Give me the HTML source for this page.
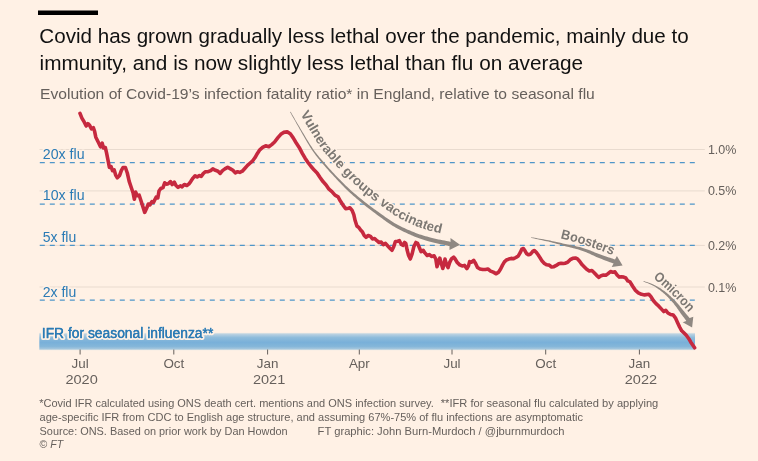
<!DOCTYPE html>
<html><head><meta charset="utf-8">
<style>
html,body{margin:0;padding:0;background:#fff1e5;}
body{width:758px;height:461px;overflow:hidden;font-family:"Liberation Sans",sans-serif;}
svg{display:block;filter:opacity(1);will-change:transform;font-family:"Liberation Sans",sans-serif;}
.t{fill:#111;font-size:19.3px;}
.s{fill:#66605c;font-size:14.4px;}
.ax{fill:#66605c;font-size:13.4px;}
.f{fill:#66605c;font-size:11.5px;}
.b{fill:#2b7bb5;font-size:14px;}
.g{stroke:#e9dbcf;stroke-width:1;}
.d{stroke:#4f96c9;stroke-width:1.25;stroke-dasharray:5 5;}
.lab{fill:#7c7873;font-weight:bold;font-size:13.5px;stroke:#fff1e5;stroke-width:2.5px;stroke-linejoin:round;paint-order:stroke;}
</style></head><body>
<svg width="758" height="461" viewBox="0 0 758 461">
<defs>
<linearGradient id="fb" x1="0" y1="0" x2="0" y2="1">
<stop offset="0" stop-color="#e9e8e3"/><stop offset="0.08" stop-color="#b9d1e1"/><stop offset="0.28" stop-color="#8dbbdb"/><stop offset="0.55" stop-color="#79b0d9"/><stop offset="0.78" stop-color="#84b6d9"/><stop offset="0.93" stop-color="#a5c7dd"/><stop offset="1" stop-color="#e6e7e3"/>
</linearGradient>
<path id="p1" d="M296.9,108.0 L297.4,109.0 L298.1,110.1 L298.9,111.4 L299.7,112.9 L300.6,114.6 L301.6,116.3 L302.7,118.1 L303.7,119.9 L304.8,121.7 L305.8,123.5 L306.8,125.2 L307.8,126.9 L308.8,128.5 L309.8,130.2 L310.8,131.9 L311.8,133.6 L312.8,135.3 L313.8,136.9 L314.8,138.6 L315.7,140.2 L316.7,141.7 L317.7,143.3 L318.7,144.7 L319.7,146.1 L320.7,147.5 L321.7,148.8 L322.7,150.1 L323.7,151.4 L324.8,152.7 L325.8,154.0 L326.9,155.2 L328.0,156.5 L329.1,157.7 L330.2,159.0 L331.3,160.2 L332.3,161.4 L333.4,162.6 L334.4,163.7 L335.4,164.8 L336.4,165.9 L337.3,167.0 L338.3,168.0 L339.3,169.1 L340.3,170.1 L341.3,171.1 L342.2,172.1 L343.2,173.2 L344.2,174.2 L345.2,175.2 L346.2,176.2 L347.2,177.2 L348.1,178.2 L349.1,179.1 L350.0,180.1 L351.0,181.0 L351.9,181.9 L352.9,182.9 L353.9,183.8 L354.9,184.7 L355.9,185.7 L357.0,186.6 L358.1,187.6 L359.3,188.6 L360.5,189.7 L361.7,190.7 L363.0,191.7 L364.2,192.8 L365.5,193.8 L366.7,194.8 L367.9,195.7 L369.0,196.6 L370.1,197.5 L371.1,198.3 L372.0,199.0 L372.8,199.7 L373.6,200.3 L374.4,200.9 L375.2,201.4 L376.0,202.0 L376.8,202.6 L377.7,203.3 L378.6,203.9 L379.6,204.7 L380.8,205.5 L382.0,206.4 L383.4,207.4 L384.8,208.4 L386.2,209.4 L387.6,210.5 L389.1,211.5 L390.6,212.6 L392.1,213.6 L393.5,214.6 L394.9,215.5 L396.3,216.4 L397.7,217.2 L399.0,218.0 L400.3,218.8 L401.7,219.5 L403.0,220.2 L404.3,220.9 L405.7,221.5 L407.1,222.2 L408.4,222.8 L409.8,223.4 L411.2,224.0 L412.6,224.6 L414.0,225.2 L415.3,225.8 L416.7,226.3 L418.0,226.9 L419.3,227.4 L420.6,227.8 L421.9,228.3 L423.2,228.7 L424.5,229.2 L425.9,229.6 L427.3,230.0 L428.8,230.5 L430.3,230.9 L431.9,231.3 L433.7,231.8 L435.6,232.2 L437.7,232.7 L439.8,233.2 L441.9,233.6 L443.9,234.0 L445.9,234.5 L447.7,234.8 L449.3,235.2 L450.7,235.5 L451.8,235.7"/>
<path id="p2" d="M560.4,238.3 Q590,245.3 620,258.3"/>
<path id="p3" d="M653.2,278.2 Q674,294 698,323"/>
</defs>
<rect width="758" height="461" fill="#fff1e5"/>
<rect x="38" y="10.5" width="60" height="4.5" fill="#000"/>
<text class="t" x="39.3" y="42.6" textLength="649.4" lengthAdjust="spacingAndGlyphs">Covid has grown gradually less lethal over the pandemic, mainly due to</text>
<text class="t" x="39.6" y="70.2" textLength="543.5" lengthAdjust="spacingAndGlyphs">immunity, and is now slightly less lethal than flu on average</text>
<text class="s" x="40" y="98.5" textLength="554.8" lengthAdjust="spacingAndGlyphs">Evolution of Covid-19’s infection fatality ratio* in England, relative to seasonal flu</text>

<!-- grid -->
<line class="g" x1="39.5" x2="704.8" y1="149.5" y2="149.5"/>
<line class="g" x1="39.5" x2="704.8" y1="190.9" y2="190.9"/>
<line class="g" x1="39.5" x2="704.8" y1="245.4" y2="245.4"/>
<line class="g" x1="39.5" x2="704.8" y1="287" y2="287"/>
<line class="d" x1="39.8" x2="695" y1="162.5" y2="162.5"/>
<line class="d" x1="39.8" x2="695" y1="204" y2="204"/>
<line class="d" x1="39.8" x2="695" y1="245.4" y2="245.4"/>
<line class="d" x1="39.8" x2="695" y1="300" y2="300"/>

<!-- flu band -->
<rect x="39.3" y="332.8" width="655.7" height="17.4" fill="url(#fb)"/>

<!-- ticks -->
<g stroke="#66605c" stroke-width="1">
<line x1="80.1" x2="80.1" y1="349.5" y2="354.5"/>
<line x1="173.8" x2="173.8" y1="349.5" y2="354.5"/>
<line x1="267.6" x2="267.6" y1="349.5" y2="354.5"/>
<line x1="359.3" x2="359.3" y1="349.5" y2="354.5"/>
<line x1="452" x2="452" y1="349.5" y2="354.5"/>
<line x1="545.7" x2="545.7" y1="349.5" y2="354.5"/>
<line x1="639.4" x2="639.4" y1="349.5" y2="354.5"/>
</g>
<g class="ax" text-anchor="middle">
<text x="80.1" y="368.2">Jul</text><text x="81.6" y="384" textLength="32.3" lengthAdjust="spacingAndGlyphs">2020</text>
<text x="173.8" y="368.2">Oct</text>
<text x="267.6" y="368.2">Jan</text><text x="269.1" y="384" textLength="32.3" lengthAdjust="spacingAndGlyphs">2021</text>
<text x="359.3" y="368.2">Apr</text>
<text x="452" y="368.2">Jul</text>
<text x="545.7" y="368.2">Oct</text>
<text x="639.4" y="368.2">Jan</text><text x="640.9" y="384" textLength="32.3" lengthAdjust="spacingAndGlyphs">2022</text>
</g>
<g class="ax">
<text x="707.9" y="153.9" textLength="28.5" lengthAdjust="spacingAndGlyphs" style="font-size:13.5px">1.0%</text>
<text x="707.9" y="195.4" textLength="28.5" lengthAdjust="spacingAndGlyphs" style="font-size:13.5px">0.5%</text>
<text x="707.9" y="250" textLength="28.5" lengthAdjust="spacingAndGlyphs" style="font-size:13.5px">0.2%</text>
<text x="707.9" y="291.8" textLength="28.5" lengthAdjust="spacingAndGlyphs" style="font-size:13.5px">0.1%</text>
</g>

<!-- blue labels with halo -->
<g class="b" stroke="#fff1e5" stroke-width="3" stroke-linejoin="round" paint-order="stroke">
<text x="42.8" y="158.5" textLength="41.8" lengthAdjust="spacingAndGlyphs">20x flu</text>
<text x="42.8" y="200" textLength="41.8" lengthAdjust="spacingAndGlyphs">10x flu</text>
<text x="42.8" y="241.5">5x flu</text>
<text x="42.8" y="296.5">2x flu</text>
<text x="41.8" y="337.8" textLength="171.5" lengthAdjust="spacingAndGlyphs" style="stroke-width:4">IFR for seasonal influenza**</text>
</g>

<text class="b" x="41.8" y="337.8" textLength="171.5" lengthAdjust="spacingAndGlyphs" stroke="#2b7bb5" stroke-width="0.3">IFR for seasonal influenza**</text>
<!-- annotation arrows -->
<g fill="#8f8882">
<path d="M290.6,111.7 L291.1,112.6 L291.8,113.7 L292.5,115.0 L293.4,116.5 L294.3,118.1 L295.3,119.9 L296.4,121.7 L297.4,123.5 L298.5,125.3 L299.6,127.1 L300.6,128.9 L301.6,130.5 L302.6,132.2 L303.6,133.8 L304.6,135.5 L305.6,137.2 L306.6,138.9 L307.6,140.6 L308.7,142.3 L309.7,143.9 L310.7,145.6 L311.8,147.1 L312.8,148.7 L313.9,150.2 L314.9,151.7 L316.0,153.1 L317.1,154.5 L318.2,155.8 L319.3,157.2 L320.5,158.5 L321.6,159.8 L322.7,161.1 L323.8,162.3 L324.9,163.6 L326.0,164.8 L327.1,166.0 L328.1,167.2 L329.2,168.4 L330.2,169.5 L331.2,170.6 L332.2,171.7 L333.2,172.8 L334.2,173.8 L335.2,174.9 L336.2,175.9 L337.2,176.9 L338.2,177.9 L339.2,179.0 L340.3,180.0 L341.2,181.0 L342.2,182.0 L343.2,183.0 L344.2,184.0 L345.1,184.9 L346.1,185.9 L347.1,186.8 L348.1,187.8 L349.2,188.8 L350.2,189.7 L351.3,190.7 L352.4,191.7 L353.6,192.7 L354.8,193.8 L356.1,194.8 L357.4,195.9 L358.6,196.9 L359.9,198.0 L361.2,199.0 L362.4,200.0 L363.6,201.0 L364.8,201.9 L365.8,202.7 L366.9,203.5 L367.8,204.3 L368.7,205.0 L369.5,205.6 L370.4,206.2 L371.2,206.8 L372.0,207.4 L372.8,208.0 L373.7,208.7 L374.7,209.4 L375.7,210.1 L376.9,210.9 L378.1,211.8 L379.4,212.7 L380.8,213.7 L382.2,214.8 L383.7,215.8 L385.2,216.9 L386.8,218.0 L388.3,219.0 L389.8,220.1 L391.3,221.1 L392.8,222.0 L394.3,222.9 L395.7,223.7 L397.1,224.5 L398.5,225.3 L400.0,226.0 L401.4,226.7 L402.8,227.4 L404.3,228.1 L405.7,228.7 L407.1,229.4 L408.5,230.0 L410.0,230.6 L411.4,231.2 L412.8,231.8 L414.2,232.3 L415.6,232.9 L417.0,233.4 L418.3,233.9 L419.7,234.4 L421.1,234.8 L422.5,235.3 L423.9,235.7 L425.4,236.2 L427.0,236.6 L428.5,237.1 L430.2,237.5 L432.1,238.0 L434.2,238.4 L436.3,238.9 L438.4,239.4 L440.5,239.8 L442.6,240.2 L444.6,240.6 L446.4,241.0 L448.0,241.3 L449.4,241.6 L450.5,241.9 L450.5,238.0 L460.0,244.8 L449.5,250.0 L449.5,246.1 L448.5,245.9 L447.1,245.6 L445.5,245.2 L443.7,244.8 L441.7,244.4 L439.6,243.9 L437.5,243.5 L435.3,243.0 L433.2,242.4 L431.2,241.9 L429.2,241.4 L427.5,240.9 L425.8,240.4 L424.3,240.0 L422.8,239.5 L421.3,239.0 L419.8,238.5 L418.4,238.0 L417.0,237.5 L415.6,236.9 L414.2,236.4 L412.8,235.8 L411.4,235.2 L410.0,234.6 L408.5,234.0 L407.1,233.3 L405.6,232.6 L404.2,232.0 L402.7,231.3 L401.3,230.6 L399.8,229.8 L398.4,229.1 L396.9,228.3 L395.5,227.5 L394.0,226.6 L392.5,225.7 L391.1,224.8 L389.5,223.8 L388.0,222.8 L386.5,221.7 L384.9,220.6 L383.4,219.5 L381.9,218.3 L380.4,217.3 L379.0,216.2 L377.6,215.2 L376.3,214.2 L375.1,213.3 L374.0,212.5 L373.0,211.7 L372.0,211.0 L371.1,210.3 L370.3,209.7 L369.5,209.1 L368.7,208.5 L367.8,207.8 L367.0,207.2 L366.1,206.4 L365.2,205.7 L364.2,204.9 L363.1,204.0 L361.9,203.0 L360.7,202.0 L359.5,201.0 L358.3,200.0 L357.0,198.9 L355.7,197.8 L354.5,196.7 L353.2,195.7 L352.0,194.6 L350.8,193.5 L349.7,192.5 L348.6,191.5 L347.6,190.5 L346.5,189.5 L345.5,188.5 L344.5,187.5 L343.6,186.5 L342.6,185.5 L341.6,184.5 L340.7,183.5 L339.7,182.5 L338.7,181.5 L337.8,180.4 L336.8,179.4 L335.8,178.3 L334.8,177.3 L333.8,176.2 L332.8,175.1 L331.8,174.1 L330.8,173.0 L329.8,171.9 L328.8,170.7 L327.8,169.6 L326.8,168.4 L325.7,167.2 L324.7,166.0 L323.6,164.7 L322.5,163.4 L321.4,162.2 L320.3,160.9 L319.2,159.5 L318.1,158.2 L317.0,156.8 L315.9,155.4 L314.9,154.0 L313.8,152.5 L312.7,151.0 L311.7,149.5 L310.7,147.9 L309.6,146.2 L308.6,144.6 L307.6,142.9 L306.6,141.2 L305.6,139.5 L304.6,137.8 L303.6,136.1 L302.7,134.4 L301.7,132.7 L300.8,131.1 L299.8,129.4 L298.8,127.6 L297.8,125.8 L296.7,123.9 L295.7,122.1 L294.7,120.3 L293.7,118.5 L292.8,116.9 L291.9,115.4 L291.2,114.0 L290.6,112.9 L290.0,111.9Z"/>
<path d="M531.1,237.2 L532.0,237.4 L533.2,237.6 L534.6,237.8 L536.2,238.1 L537.9,238.4 L539.7,238.7 L541.5,239.0 L543.4,239.3 L545.2,239.7 L547.0,240.0 L548.6,240.3 L550.2,240.6 L551.5,240.9 L552.9,241.2 L554.2,241.4 L555.4,241.7 L556.6,242.0 L557.8,242.3 L559.0,242.5 L560.2,242.8 L561.4,243.1 L562.7,243.4 L563.9,243.7 L565.3,244.0 L566.6,244.3 L568.0,244.6 L569.4,244.8 L570.9,245.1 L572.4,245.4 L573.8,245.7 L575.3,246.0 L576.8,246.4 L578.3,246.7 L579.9,247.1 L581.4,247.5 L582.9,247.9 L584.3,248.4 L585.9,248.9 L587.4,249.5 L588.9,250.0 L590.4,250.6 L591.9,251.2 L593.4,251.8 L594.8,252.4 L596.3,253.0 L597.7,253.5 L599.0,254.1 L600.4,254.6 L601.7,255.0 L603.1,255.5 L604.5,256.0 L606.0,256.5 L607.4,256.9 L608.8,257.4 L610.1,257.8 L611.3,258.2 L612.4,258.6 L613.5,258.9 L614.3,259.2 L615.0,259.4 L616.9,256.1 L622.6,265.5 L611.7,266.9 L613.6,263.6 L612.9,263.3 L612.0,263.0 L611.0,262.6 L609.9,262.2 L608.7,261.8 L607.4,261.3 L606.0,260.8 L604.6,260.2 L603.2,259.7 L601.8,259.1 L600.4,258.6 L599.0,258.0 L597.7,257.5 L596.3,256.9 L594.9,256.2 L593.5,255.6 L592.0,254.9 L590.6,254.3 L589.1,253.6 L587.7,253.0 L586.2,252.3 L584.8,251.8 L583.4,251.2 L581.9,250.7 L580.5,250.2 L579.1,249.8 L577.7,249.3 L576.2,248.9 L574.7,248.5 L573.3,248.2 L571.8,247.8 L570.4,247.4 L568.9,247.1 L567.5,246.7 L566.1,246.4 L564.7,246.0 L563.4,245.7 L562.2,245.3 L560.9,245.0 L559.7,244.6 L558.6,244.3 L557.4,244.0 L556.2,243.7 L555.0,243.3 L553.8,243.0 L552.5,242.7 L551.2,242.3 L549.8,242.0 L548.4,241.6 L546.7,241.3 L545.0,240.9 L543.1,240.5 L541.3,240.1 L539.5,239.7 L537.7,239.3 L536.0,238.9 L534.4,238.6 L533.0,238.3 L531.9,238.0 L530.9,237.8Z"/>
<path d="M643.6,280.9 L644.2,281.1 L644.9,281.4 L645.7,281.7 L646.7,282.0 L647.7,282.3 L648.8,282.7 L649.9,283.1 L651.0,283.5 L652.2,284.0 L653.3,284.4 L654.3,284.9 L655.3,285.4 L656.3,285.9 L657.2,286.4 L658.1,286.9 L659.0,287.5 L659.9,288.1 L660.8,288.6 L661.7,289.2 L662.6,289.9 L663.5,290.5 L664.4,291.1 L665.2,291.8 L666.1,292.5 L667.0,293.1 L667.8,293.9 L668.7,294.6 L669.5,295.4 L670.4,296.1 L671.2,296.9 L672.0,297.7 L672.9,298.5 L673.7,299.3 L674.4,300.0 L675.2,300.8 L675.9,301.6 L676.7,302.4 L677.4,303.2 L678.1,304.0 L678.7,304.8 L679.4,305.6 L680.0,306.4 L680.7,307.2 L681.3,307.9 L681.9,308.7 L682.5,309.4 L683.0,310.2 L683.6,310.8 L684.2,311.5 L684.8,312.2 L685.4,313.0 L686.0,313.7 L686.6,314.4 L687.1,315.1 L687.7,315.7 L688.2,316.3 L688.7,316.9 L689.1,317.4 L689.4,317.8 L689.7,318.1 L693.3,316.7 L692.1,327.4 L682.7,322.3 L686.3,320.9 L686.0,320.5 L685.7,320.0 L685.3,319.5 L684.9,318.9 L684.4,318.3 L683.9,317.6 L683.4,316.9 L682.8,316.2 L682.3,315.4 L681.7,314.7 L681.1,313.9 L680.6,313.2 L680.1,312.4 L679.5,311.6 L679.0,310.9 L678.4,310.1 L677.9,309.3 L677.3,308.4 L676.7,307.6 L676.1,306.8 L675.5,306.0 L674.9,305.2 L674.3,304.4 L673.7,303.6 L673.0,302.8 L672.3,302.0 L671.6,301.2 L670.9,300.4 L670.1,299.6 L669.4,298.7 L668.6,297.9 L667.8,297.1 L667.1,296.4 L666.3,295.6 L665.5,294.9 L664.7,294.1 L663.9,293.4 L663.1,292.7 L662.3,292.1 L661.5,291.4 L660.6,290.7 L659.8,290.1 L659.0,289.5 L658.1,288.9 L657.3,288.3 L656.4,287.7 L655.5,287.1 L654.7,286.6 L653.7,286.1 L652.7,285.6 L651.7,285.0 L650.6,284.5 L649.5,284.1 L648.4,283.6 L647.4,283.1 L646.4,282.7 L645.5,282.4 L644.6,282.0 L643.9,281.7 L643.4,281.5Z"/>
</g>
<text class="lab" style="letter-spacing:-0.06px"><textPath href="#p1" startOffset="7">Vulnerable groups vaccinated</textPath></text>
<text class="lab"><textPath href="#p2" textLength="55" lengthAdjust="spacingAndGlyphs">Boosters</textPath></text>
<text class="lab"><textPath href="#p3" textLength="49.5" lengthAdjust="spacingAndGlyphs">Omicron</textPath></text>

<!-- covid line -->
<path fill="none" stroke="#c6293f" stroke-width="3.6" stroke-linejoin="round" stroke-linecap="round" d="M80.0,113.4 L81.9,118.1 L84.3,122.2 L86.2,126 L87.9,123.6 L89.6,125.3 L91.5,128.9 L93.4,127.7 L94.6,131.3 L95.8,137.2 L98.2,142 L100.5,146.8 L102.2,143.2 L103.4,148 L105.3,147.5 L106.5,152.7 L108.2,161.1 L109.4,167.5 L111.1,166.6 L112.5,170.6 L114.2,169.9 L115.8,175.4 L117.3,177.8 L119.6,175.4 L121.3,170.6 L123,167.5 L125.4,167.5 L127.3,173 L129.2,181.4 L131.6,188.5 L133.2,193.3 L134.4,199.3 L135.6,192.1 L137.3,195.7 L139.2,195.2 L140.9,200.5 L142.8,206.4 L144.7,212.4 L146.4,208.8 L148.3,204 L150,204.8 L151.9,201.7 L153.5,202.4 L156.1,197.2 L157.8,198 L159,191.1 L160.8,188.5 L163,187.6 L164.7,182.8 L166.5,184.2 L168.2,183.8 L170.5,181.6 L172.2,184.5 L174.3,182.1 L176,185.5 L178.1,187.3 L180.3,185.9 L182.1,186.8 L184.3,184.5 L186.8,185.5 L189,183.8 L190.7,181.6 L193,178.1 L195.1,175.8 L197.2,176.9 L199.4,175.5 L201.2,176.4 L203.4,173.4 L205.5,171.7 L208.1,171.7 L210.7,170.6 L212.8,168.9 L215.5,170.3 L218,171.2 L220.2,173.4 L222.5,170.6 L224.9,168.9 L227.7,167.2 L230.1,168.6 L232.9,170.3 L235.3,172.9 L237.6,171.7 L239.8,172.4 L242.3,171.2 L245,168.2 L247.5,165.4 L250.2,163 L252.7,160.8 L254.9,157.8 L257.4,153.4 L259.8,149.8 L262.6,147.4 L265.7,145.8 L268.8,146.7 L271.7,144.6 L274.6,142 L277.7,137.9 L280.8,134.3 L283.6,132.4 L287.2,131.9 L290.3,133.8 L293.2,137.9 L296.1,142.7 L299.2,147.4 L302.3,153.4 L305.1,158.2 L308,162.5 L311.1,166.5 L314.2,170.1 L317.1,173 L319.9,177.3 L323,181.6 L326.1,184.9 L329,189.2 L331.9,191.6 L335,195.2 L338.1,196.8 L340.4,201.1 L343.3,205.4 L345.7,208.8 L348.6,208.3 L350,207.8 L352.1,210.4 L353.8,214.7 L355.2,220.8 L356.9,226 L359,227.7 L360.8,230.3 L362.5,232.1 L364.2,235.5 L366,237.3 L368.2,235.5 L370.5,236.4 L372.5,239 L374.6,238.5 L376.9,240.7 L379.1,242.5 L381.2,242 L383.3,244.7 L385.5,243.4 L387.8,246 L389.9,248.2 L392,250.3 L393.7,246.8 L395.4,241.6 L397.7,241.3 L399.4,240.7 L401.2,244.2 L402.9,245.4 L404.6,242.5 L405.8,243.4 L407.2,250.3 L408.6,255.5 L410.3,259 L412.1,253.8 L413.8,246.8 L415.9,242.5 L417.6,243.4 L419.4,247.7 L421.1,251.7 L423.2,250.3 L424.9,252.9 L427.2,255.5 L429.4,254.6 L431.5,256.4 L434.1,255.8 L435.8,259 L437,266.8 L438.4,262.4 L439.8,258.1 L441,262.4 L442.8,268.5 L444,264.2 L445,259 L446.4,264.2 L448,267.6 L449.7,262.4 L451.4,259 L453.7,257.2 L455,258.7 L457.4,262.7 L459.7,264.8 L462.1,265.9 L464.5,265.4 L466.9,268.6 L468.5,265.9 L469.6,261.6 L471.6,262.2 L473.7,260.3 L475.6,263.5 L477.5,267.5 L480,269 L482.7,269.5 L485.4,269.5 L487.9,269 L490.6,271.1 L493.3,272.2 L496.2,273.8 L498.5,272.2 L500.6,269 L502.5,265.1 L504.4,261.9 L506.4,260 L508.8,259.1 L511.2,258.4 L513.6,258.7 L515.9,257.5 L518.3,255.9 L520.2,252.7 L521.8,249.2 L523.4,248.5 L525,250.8 L526.6,253.7 L528.6,254.8 L530.7,254 L532.6,251.6 L534.2,250.5 L536.1,252.1 L538.1,254.8 L540.2,258 L542.1,261.1 L544.4,263.5 L546.8,264.8 L549.2,265.1 L551.6,267 L553.9,266.7 L556.3,265.4 L558.7,263.8 L561.1,263.2 L563.4,263.5 L565,263.2 L567.6,262.3 L570.2,259.7 L572.8,258.3 L575.4,258 L577.5,258.9 L579.8,261.5 L582,264.6 L584.4,267 L586.7,269.3 L589.3,271 L591.9,270.5 L594.2,272.7 L596.6,275.3 L598.9,277.4 L601.1,275.7 L603.5,275 L605.8,275.3 L608.1,273.6 L610.5,271.5 L612.7,272.2 L615,271.9 L617.1,275 L619.2,277.1 L621.4,276.7 L623.7,277.1 L625.8,278 L627.8,280.9 L630,281.8 L632.5,286 L635.2,290.1 L638.3,292.8 L641.5,294.3 L644.6,294.9 L648.8,294.3 L650.8,296.4 L653.3,300.5 L656,303.7 L658.8,306.2 L661.3,308.9 L663.8,311.6 L665.8,310.3 L667.9,313 L670.6,314.5 L673.3,315.1 L675.4,317.8 L677.5,322.4 L679.6,327 L681.7,330.8 L683.8,332.8 L686.3,335.3 L688.8,338.7 L690.8,342.2 L692.9,345.3 L694.6,347.8"/>

<!-- footer -->
<text class="f" x="39.2" y="407" textLength="394.6" lengthAdjust="spacingAndGlyphs">*Covid IFR calculated using ONS death cert. mentions and ONS infection survey.</text>
<text class="f" x="440.8" y="407" textLength="217.5" lengthAdjust="spacingAndGlyphs">**IFR for seasonal flu calculated by applying</text>
<text class="f" x="39.6" y="420.8" textLength="543.4" lengthAdjust="spacingAndGlyphs">age-specific IFR from CDC to English age structure, and assuming 67%-75% of flu infections are asymptomatic</text>
<text class="f" x="39.6" y="434.6" textLength="248" lengthAdjust="spacingAndGlyphs">Source: ONS. Based on prior work by Dan Howdon</text>
<text class="f" x="317.6" y="434.6" textLength="247" lengthAdjust="spacingAndGlyphs">FT graphic: John Burn-Murdoch / @jburnmurdoch</text>
<text class="f" x="39.5" y="448.4" textLength="23.6" lengthAdjust="spacingAndGlyphs">© <tspan font-style="italic">FT</tspan></text>
</svg>
</body></html>
